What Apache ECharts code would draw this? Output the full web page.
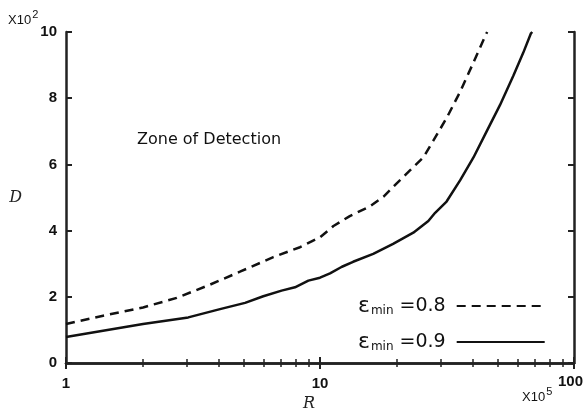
<!DOCTYPE html>
<html>
<head>
<meta charset="utf-8">
<script src="https://cdn.jsdelivr.net/npm/echarts@6/dist/echarts.min.js"></script>
<style>html,body{margin:0;padding:0;background:#fff}#c{width:585px;height:417px}</style>
</head>
<body>
<div id="c"></div>
<script>
// Data (R in units of 1e5, D in units of 1e2)
const R_08 = [1, 1.4, 2.01, 2.73, 3.69, 4.84, 6.55, 8.34, 10, 11.3, 13.1, 15.7, 17.8, 20.0, 22.6, 25.5, 27.9, 31.5, 35.6, 39.6, 44.6, 45.5];
const D_08 = [1.18, 1.43, 1.68, 1.97, 2.37, 2.76, 3.2, 3.5, 3.8, 4.14, 4.44, 4.73, 5.03, 5.42, 5.82, 6.21, 6.71, 7.40, 8.19, 8.97, 9.86, 10];
const R_09 = [1, 2.01, 3.03, 4.04, 5.07, 5.98, 7.06, 7.97, 9.0, 10, 10.95, 12.2, 13.5, 16.2, 19.4, 23.3, 26.7, 28.4, 31.5, 35.6, 40.2, 45.3, 51.1, 57.7, 63.1, 67.7, 68.5];
const D_09 = [0.79, 1.18, 1.38, 1.63, 1.82, 2.02, 2.19, 2.29, 2.49, 2.58, 2.71, 2.91, 3.06, 3.30, 3.60, 3.94, 4.29, 4.54, 4.88, 5.52, 6.21, 7.0, 7.79, 8.68, 9.37, 9.96, 10];
const seriesNames = ['e08', 'e09'];
const legendText = { e08: '=0.8', e09: '=0.9' };
const yTicks = { min: 0, max: 10, interval: 2 };
const xRange = { min: 1, max: 100 };

const pairs = (xs, ys) => xs.map((x, i) => [x, ys[i]]);
const axisColor = '#222';
const labelFont = { fontFamily: 'Liberation Sans', fontWeight: 'bold', fontSize: 15, color: '#111' };
const tickStyle = { show: true, inside: true, length: 6, lineStyle: { color: axisColor, width: 2 } };
const minorStyle = { show: true, splitNumber: 9, length: 4, lineStyle: { color: axisColor, width: 1.5 } };

const chart = echarts.init(document.getElementById('c'), null, { renderer: 'canvas' });
chart.setOption({
  animation: false,
  backgroundColor: '#fff',
  grid: { left: 66, right: 11, top: 32, bottom: 47, containLabel: false },
  xAxis: [
    {
      type: 'log', logBase: 10, min: xRange.min, max: xRange.max, position: 'bottom',
      name: 'R', nameLocation: 'middle', nameGap: 26,
      nameTextStyle: { fontFamily: 'DejaVu Serif', fontStyle: 'italic', fontSize: 16, color: '#222', padding: [0, 22, 0, 0] },
      axisLine: { show: true, lineStyle: { color: axisColor, width: 2.5 } },
      axisTick: tickStyle,
      minorTick: minorStyle,
      axisLabel: Object.assign({ margin: 13, showMaxLabel: false, formatter: v => String(v) }, labelFont),
      splitLine: { show: false }, minorSplitLine: { show: false }
    },
    {
      type: 'log', logBase: 10, min: xRange.min, max: xRange.max, position: 'top',
      axisLine: { show: true, lineStyle: { color: axisColor, width: 2.5 } },
      axisTick: tickStyle,
      minorTick: minorStyle,
      axisLabel: { show: false }, splitLine: { show: false }
    }
  ],
  yAxis: [
    {
      type: 'value', min: yTicks.min, max: yTicks.max, interval: yTicks.interval, position: 'left',
      name: 'D', nameLocation: 'middle', nameGap: 44, nameRotate: 0,
      nameTextStyle: { fontFamily: 'DejaVu Serif', fontStyle: 'italic', fontSize: 16, color: '#222', padding: [0, 0, 16, 0] },
      axisLine: { show: true, lineStyle: { color: axisColor, width: 2.5 } },
      axisTick: tickStyle,
      axisLabel: Object.assign({ margin: 9 }, labelFont),
      splitLine: { show: false }
    },
    {
      type: 'value', min: yTicks.min, max: yTicks.max, interval: yTicks.interval, position: 'right',
      axisLine: { show: true, lineStyle: { color: axisColor, width: 2.5 } },
      axisTick: tickStyle,
      axisLabel: { show: false }, splitLine: { show: false }
    }
  ],
  legend: {
    orient: 'vertical', align: 'right', left: 353, top: 290,
    itemWidth: 88, itemHeight: 14, itemGap: 14,
    data: seriesNames,
    itemStyle: { opacity: 0 },
    formatter: n => '{e|ε}{s|min}{v| ' + legendText[n] + '}',
    textStyle: {
      color: '#111',
      rich: {
        e: { fontFamily: 'DejaVu Sans', fontSize: 22, color: '#111' },
        s: { fontFamily: 'DejaVu Sans', fontSize: 12, color: '#111', padding: [10, 0, 0, 1] },
        v: { fontFamily: 'DejaVu Sans', fontSize: 19, color: '#111', padding: [0, 6, 0, 0] }
      }
    }
  },
  series: [
    {
      name: 'e08', type: 'line', data: pairs(R_08, D_08), symbol: 'none', showSymbol: false,
      lineStyle: { color: '#111', width: 2.5, type: [9, 6] }, itemStyle: { color: '#111' },
      clip: true
    },
    {
      name: 'e09', type: 'line', data: pairs(R_09, D_09), symbol: 'none', showSymbol: false,
      lineStyle: { color: '#111', width: 2.5, type: 'solid' }, itemStyle: { color: '#111' },
      clip: true
    }
  ],
  graphic: [
    { type: 'text', left: 137, top: 132, style: { text: 'Zone of Detection', font: '16px "DejaVu Sans"', fill: '#111' } },
    { type: 'text', left: 8, top: 9, style: { text: '{a|X10}{b|2}', rich: { a: { fontFamily: 'Liberation Sans', fontSize: 13, fill: '#111', padding: [6, 0, 0, 0] }, b: { fontFamily: 'Liberation Sans', fontSize: 11, fill: '#111', padding: [0, 0, 6, 1] } } } },
    { type: 'text', left: 522, top: 386, style: { text: '{a|X10}{b|5}', rich: { a: { fontFamily: 'Liberation Sans', fontSize: 13, fill: '#111', padding: [6, 0, 0, 0] }, b: { fontFamily: 'Liberation Sans', fontSize: 11, fill: '#111', padding: [0, 0, 6, 1] } } } },
    { type: 'text', left: 558, top: 374, style: { text: '100', font: 'bold 15px "Liberation Sans"', fill: '#111' } }
  ]
});
</script>
</body>
</html>
